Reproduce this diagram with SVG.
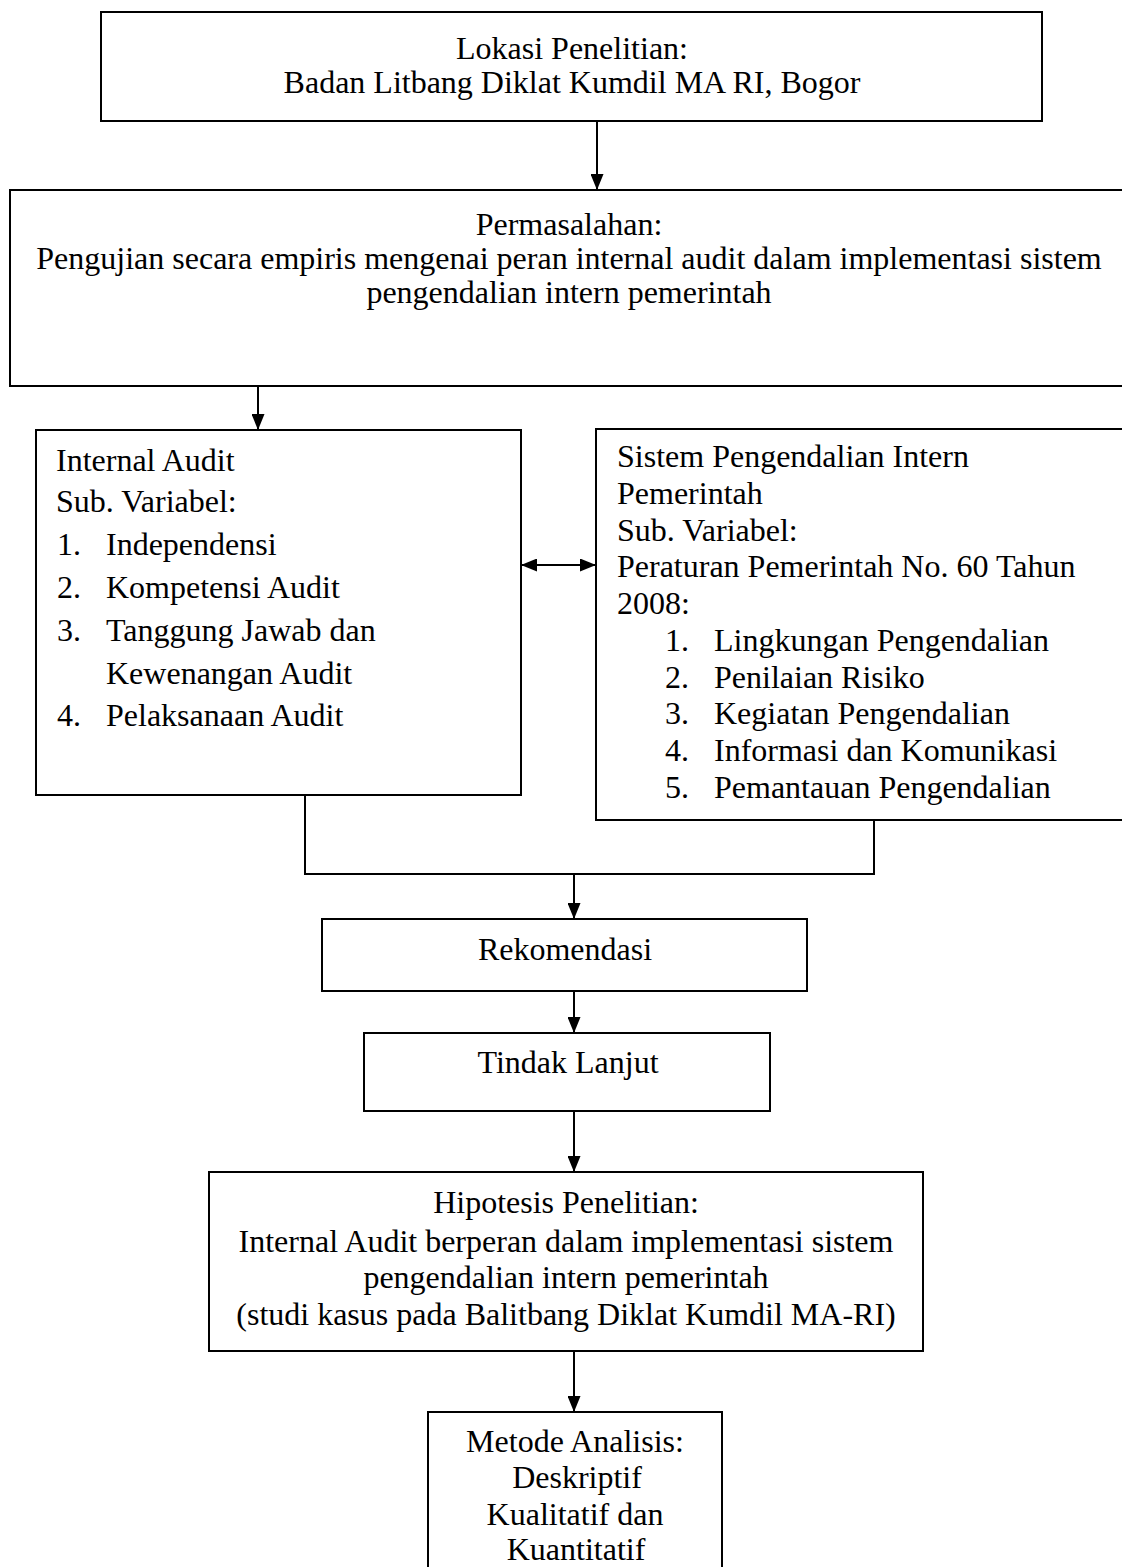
<svg xmlns="http://www.w3.org/2000/svg" width="1122" height="1567" viewBox="0 0 1122 1567">
<style>
  .box { fill: #ffffff; stroke: #000000; stroke-width: 2; }
  .t { font-family: "Liberation Serif", "Times New Roman", serif; font-size: 32px; fill: #000000; }
  .c { text-anchor: middle; }
  .conn { fill: none; stroke: #000000; stroke-width: 2; }
</style>
<defs>
  <marker id="arrow" markerUnits="userSpaceOnUse" markerWidth="16" markerHeight="13" refX="16" refY="6.5" orient="auto-start-reverse">
    <path d="M0,0 L16,6.5 L0,13 Z" fill="#000000"/>
  </marker>
</defs>
<rect width="1122" height="1567" fill="#ffffff"/>

<g id="connectors">
  <line class="conn" x1="597" y1="121" x2="597" y2="190" marker-end="url(#arrow)"/>
  <line class="conn" x1="258" y1="386" x2="258" y2="430" marker-end="url(#arrow)"/>
  <line class="conn" x1="521" y1="565" x2="596" y2="565" marker-start="url(#arrow)" marker-end="url(#arrow)"/>
  <polyline class="conn" points="305,795 305,874 874,874 874,820"/>
  <line class="conn" x1="574" y1="874" x2="574" y2="919" marker-end="url(#arrow)"/>
  <line class="conn" x1="574" y1="991" x2="574" y2="1033" marker-end="url(#arrow)"/>
  <line class="conn" x1="574" y1="1111" x2="574" y2="1172" marker-end="url(#arrow)"/>
  <line class="conn" x1="574" y1="1351" x2="574" y2="1412" marker-end="url(#arrow)"/>
</g>

<g id="lokasi">
  <rect class="box" x="101" y="12" width="941" height="109"/>
  <text class="t c" x="572" y="59">Lokasi Penelitian:</text>
  <text class="t c" x="572" y="93">Badan Litbang Diklat Kumdil MA RI, Bogor</text>
</g>

<g id="permasalahan">
  <rect class="box" x="10" y="190" width="1130" height="196"/>
  <text class="t c" x="569" y="235">Permasalahan:</text>
  <text class="t c" x="569" y="269">Pengujian secara empiris mengenai peran internal audit dalam implementasi sistem</text>
  <text class="t c" x="569" y="303">pengendalian intern pemerintah</text>
</g>

<g id="internal-audit">
  <rect class="box" x="36" y="430" width="485" height="365"/>
  <text class="t" x="56" y="471">Internal Audit</text>
  <text class="t" x="56" y="512">Sub. Variabel:</text>
  <text class="t" x="57" y="555">1.</text><text class="t" x="106" y="555">Independensi</text>
  <text class="t" x="57" y="598">2.</text><text class="t" x="106" y="598">Kompetensi Audit</text>
  <text class="t" x="57" y="641">3.</text><text class="t" x="106" y="641">Tanggung Jawab dan</text>
  <text class="t" x="106" y="684">Kewenangan Audit</text>
  <text class="t" x="57" y="726">4.</text><text class="t" x="106" y="726">Pelaksanaan Audit</text>
</g>

<g id="spip">
  <rect class="box" x="596" y="429" width="560" height="391"/>
  <text class="t" x="617" y="467">Sistem Pengendalian Intern</text>
  <text class="t" x="617" y="504">Pemerintah</text>
  <text class="t" x="617" y="541">Sub. Variabel:</text>
  <text class="t" x="617" y="577">Peraturan Pemerintah No. 60 Tahun</text>
  <text class="t" x="617" y="614">2008:</text>
  <text class="t" x="665" y="651">1.</text><text class="t" x="714" y="651">Lingkungan Pengendalian</text>
  <text class="t" x="665" y="688">2.</text><text class="t" x="714" y="688">Penilaian Risiko</text>
  <text class="t" x="665" y="724">3.</text><text class="t" x="714" y="724">Kegiatan Pengendalian</text>
  <text class="t" x="665" y="761">4.</text><text class="t" x="714" y="761">Informasi dan Komunikasi</text>
  <text class="t" x="665" y="798">5.</text><text class="t" x="714" y="798">Pemantauan Pengendalian</text>
</g>

<g id="rekomendasi">
  <rect class="box" x="322" y="919" width="485" height="72"/>
  <text class="t c" x="565" y="960">Rekomendasi</text>
</g>

<g id="tindak-lanjut">
  <rect class="box" x="364" y="1033" width="406" height="78"/>
  <text class="t c" x="568" y="1073">Tindak Lanjut</text>
</g>

<g id="hipotesis">
  <rect class="box" x="209" y="1172" width="714" height="179"/>
  <text class="t c" x="566" y="1213">Hipotesis Penelitian:</text>
  <text class="t c" x="566" y="1252">Internal Audit berperan dalam implementasi sistem</text>
  <text class="t c" x="566" y="1288">pengendalian intern pemerintah</text>
  <text class="t c" x="566" y="1325">(studi kasus pada Balitbang Diklat Kumdil MA-RI)</text>
</g>

<g id="metode">
  <rect class="box" x="428" y="1412" width="294" height="170"/>
  <text class="t c" x="575" y="1452">Metode Analisis:</text>
  <text class="t c" x="577" y="1488">Deskriptif</text>
  <text class="t c" x="575" y="1525">Kualitatif  dan</text>
  <text class="t c" x="576" y="1560">Kuantitatif</text>
</g>
</svg>
